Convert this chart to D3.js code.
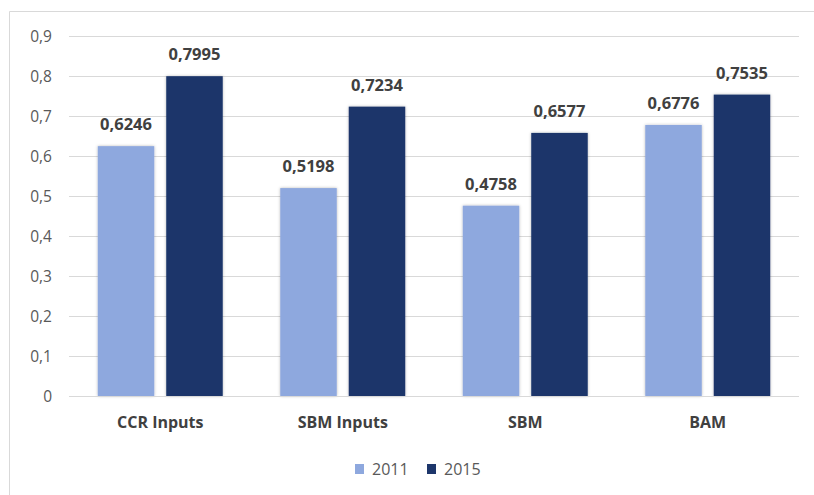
<!DOCTYPE html>
<html>
<head>
<meta charset="utf-8">
<script src="https://cdn.jsdelivr.net/npm/d3@7"></script>
<style>
  html, body { margin: 0; padding: 0; background: #ffffff; }
  svg { display: block; }
  text { font-family: "Open Sans", "Liberation Sans", sans-serif; }
</style>
</head>
<body>
<svg id="chart" width="814" height="495"></svg>
<script>
// Efficiency scores by model and year
const categories = ["CCR Inputs", "SBM Inputs", "SBM", "BAM"];
const years = ["2011", "2015"];
const values2011 = [0.6246, 0.5198, 0.4758, 0.6776];
const values2015 = [0.7995, 0.7234, 0.6577, 0.7535];
const yTicks = [0, 0.1, 0.2, 0.3, 0.4, 0.5, 0.6, 0.7, 0.8, 0.9];
const colors = ["#8EA8DE", "#1D366B"];

const series = [values2011, values2015];
const fmt = v => String(v).replace(".", ",");

const svg = d3.select("#chart");
const W = 814, H = 495;
const plot = { left: 69, right: 799, top: 36, bottom: 396 };

// Outer chart frame
svg.append("path")
  .attr("d", `M9.5,${H + 2} V11.5 H${W + 2}`)
  .attr("fill", "none")
  .attr("stroke", "#d9d9d9")
  .attr("stroke-width", 1);

const x = d3.scaleBand()
  .domain(categories)
  .range([plot.left, plot.right])
  .paddingInner(0)
  .paddingOuter(0);

const x1 = d3.scaleBand()
  .domain(years)
  .range([0, x.bandwidth()])
  .paddingInner(0.175)
  .paddingOuter(0.42);

const y = d3.scaleLinear()
  .domain([0, 0.9])
  .range([plot.bottom, plot.top]);

// Horizontal gridlines
svg.append("g")
  .selectAll("line")
  .data(yTicks.filter(t => t > 0))
  .join("line")
  .attr("x1", plot.left)
  .attr("x2", plot.right)
  .attr("y1", d => Math.round(y(d)) + 0.5)
  .attr("y2", d => Math.round(y(d)) + 0.5)
  .attr("stroke", "#d9d9d9")
  .attr("stroke-width", 1);

// Y axis labels
const yAxis = d3.axisLeft(y)
  .tickValues(yTicks)
  .tickSize(0)
  .tickPadding(0)
  .tickFormat(d => d === 0 ? "0" : fmt(+d.toFixed(1)));

svg.append("g")
  .attr("transform", `translate(52,0)`)
  .call(yAxis)
  .call(g => g.select(".domain").remove())
  .call(g => g.selectAll("text")
    .attr("font-family", "\"Open Sans\", sans-serif")
    .attr("font-size", 15.5)
    .attr("fill", "#595959")
    .attr("dy", "0.36em"));

// Soft shadow under bars
const defs = svg.append("defs");
const f = defs.append("filter").attr("id", "shadow")
  .attr("x", "-20%").attr("y", "-10%").attr("width", "140%").attr("height", "120%");
f.append("feDropShadow")
  .attr("dx", 0).attr("dy", 0).attr("stdDeviation", 1.6)
  .attr("flood-color", "#000").attr("flood-opacity", 0.28);

// Bars
const groups = svg.append("g")
  .selectAll("g")
  .data(categories)
  .join("g")
  .attr("transform", d => `translate(${x(d)},0)`);

groups.selectAll("rect")
  .data((c, i) => years.map((yr, k) => ({ yr, v: series[k][i], k })))
  .join("rect")
  .attr("x", d => x1(d.yr))
  .attr("width", x1.bandwidth())
  .attr("y", d => y(d.v))
  .attr("height", d => y(0) - y(d.v))
  .attr("fill", d => colors[d.k])
  .attr("filter", "url(#shadow)");

// Value labels
groups.selectAll("text.val")
  .data((c, i) => years.map((yr, k) => ({ yr, v: series[k][i], k })))
  .join("text")
  .attr("class", "val")
  .attr("x", d => x1(d.yr) + x1.bandwidth() / 2)
  .attr("y", d => y(d.v) - 16)
  .attr("text-anchor", "middle")
  .attr("font-size", 16.5)
  .attr("font-weight", "bold")
  .attr("fill", "#404040")
  .text(d => fmt(d.v));

// Baseline
svg.append("line")
  .attr("x1", plot.left).attr("x2", plot.right)
  .attr("y1", y(0) + 0.5).attr("y2", y(0) + 0.5)
  .attr("stroke", "#d9d9d9").attr("stroke-width", 1.2);

// Category labels
const xAxis = d3.axisBottom(x).tickSize(0).tickPadding(0);
svg.append("g")
  .attr("transform", `translate(0,${plot.bottom})`)
  .call(xAxis)
  .call(g => g.select(".domain").remove())
  .call(g => g.selectAll("text")
    .attr("font-family", "\"Open Sans\", sans-serif")
    .attr("font-size", 16)
    .attr("font-weight", "bold")
    .attr("fill", "#404040")
    .attr("dy", 0)
    .attr("y", 32));

// Legend
const legend = svg.append("g").attr("transform", "translate(355,469)");
const legendX = [0, 72];
years.forEach((yr, k) => {
  const g = legend.append("g").attr("transform", `translate(${legendX[k]},0)`);
  g.append("rect").attr("x", 0).attr("y", -5).attr("width", 9).attr("height", 10)
    .attr("fill", colors[k]);
  g.append("text").attr("x", 17).attr("y", 0).attr("dy", "0.36em")
    .attr("font-size", 16).attr("fill", "#595959").text(yr);
});
</script>
</body>
</html>
